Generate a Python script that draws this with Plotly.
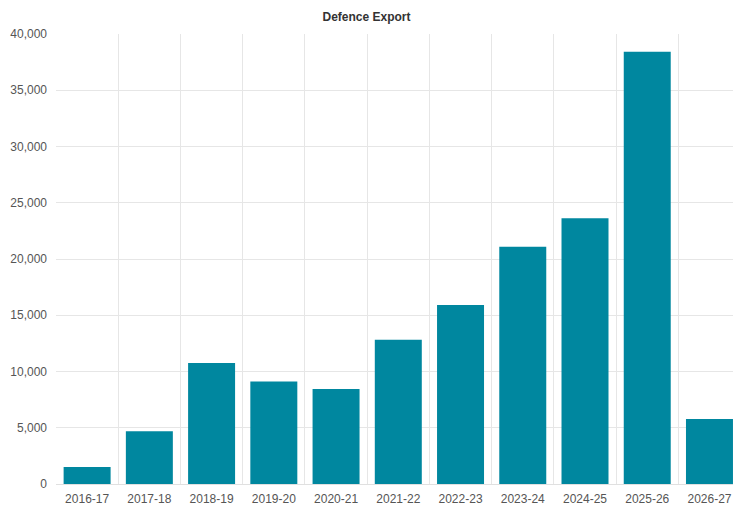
import plotly.graph_objects as go

years = ["2016-17", "2017-18", "2018-19", "2019-20", "2020-21", "2021-22",
         "2022-23", "2023-24", "2024-25", "2025-26", "2026-27"]
exports = [1521, 4682, 10746, 9116, 8435, 12815, 15920, 21083, 23622, 38424, 5780]
y_ticks = [0, 5000, 10000, 15000, 20000, 25000, 30000, 35000, 40000]

fig = go.Figure(go.Bar(x=years, y=exports, marker=dict(color="#00879f", line=dict(width=0))))

fig.update_layout(
    width=733, height=509,
    margin=dict(l=56, r=0, t=34, b=25),
    paper_bgcolor="white", plot_bgcolor="white",
    bargap=0.245,
    showlegend=False,
    font=dict(family="Liberation Sans, Arial, sans-serif", size=12, color="#555555"),
    title=dict(text="<b>Defence Export</b>", x=0.5, xanchor="center", y=0.967, yanchor="middle",
               font=dict(size=12, color="#333333")),
)
fig.update_xaxes(
    type="category", tickson="boundaries", range=[-0.5, 10.378],
    showgrid=True, gridcolor="#e6e6e6", gridwidth=1,
    ticks="", showline=True, linecolor="#e0e0e0",
    ticklabelstandoff=4,
    tickfont=dict(size=12, color="#555555"),
)
fig.update_yaxes(
    range=[0, 40000], tickvals=y_ticks, tickformat=",",
    showgrid=True, gridcolor="#e6e6e6", gridwidth=1, zeroline=False,
    ticks="", ticklabelstandoff=8,
    tickfont=dict(size=12, color="#555555"),
)

fig.write_html("out.html")
